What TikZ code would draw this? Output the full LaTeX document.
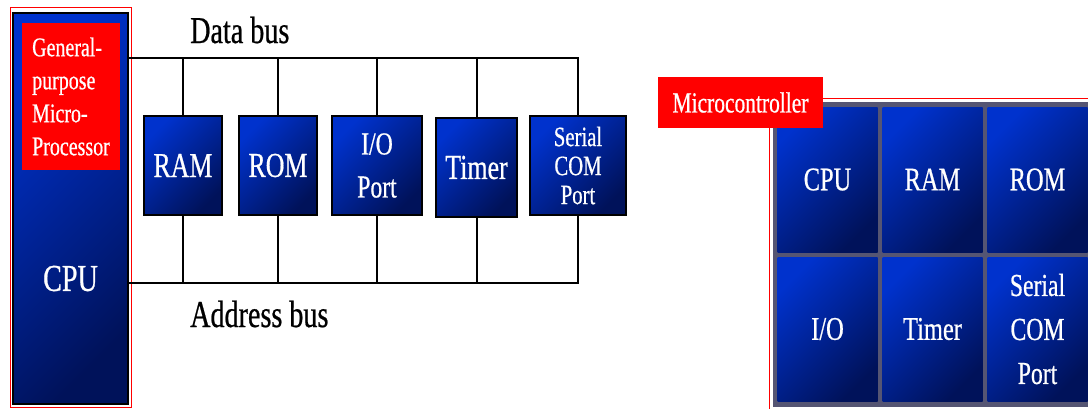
\documentclass[tikz,border=0pt]{standalone}
\usepackage{fontspec}
\setmainfont{Liberation Serif}[FakeStretch=0.74, FakeBold=0.6]
\definecolor{chipHi}{RGB}{0,50,205}
\definecolor{chipLo}{RGB}{0,18,90}
\definecolor{panelgrey}{RGB}{85,85,115}
\definecolor{labelred}{RGB}{255,0,0}
\tikzset{
  chip/.style={draw=black, line width=1.2pt, top color=chipHi, bottom color=chipLo,
    shading angle=45, text=white, inner sep=0pt, align=center},
  cell/.style={chip, draw=none},
  frame/.style={draw=labelred, line width=0.8pt, inner sep=0pt},
  redlabel/.style={fill=labelred, text=white, inner sep=0pt},
  bus/.style={draw=black, line width=2.5pt, line join=miter},
  drop/.style={draw=black, line width=2pt},
  bigtext/.style={font=\fontsize{38}{42}\selectfont},
  boxtext/.style={font=\fontsize{35}{40}\selectfont},
  celltext/.style={font=\fontsize{33}{38}\selectfont},
  smalltext/.style={font=\fontsize{27}{33}\selectfont},
}
\begin{document}
\begin{tikzpicture}[x=1pt,y=-1pt]
\useasboundingbox (0,0) rectangle (1088,408);

% general-purpose microprocessor system
\node[frame, minimum width=121pt, minimum height=400pt] (cpuframe) at (70.5,207.5) {};
\node[chip, minimum width=115pt, minimum height=391pt] (cpu) at (70.5,208.5) {};
\node[redlabel, smalltext, align=left, minimum width=98pt, minimum height=147pt]
  (gpm) at (71,96.5) {General-\\purpose\\Micro-\\Processor};
\node[text=white, bigtext] (cputext) at (70.5,278.5) {CPU};

\node[chip, boxtext, minimum width=78pt, minimum height=99pt] (ram) at (183,165.5) {RAM};
\node[chip, boxtext, minimum width=78pt, minimum height=99pt] (rom) at (278,165.5) {ROM};
\node[chip, font=\fontsize{32}{43}\selectfont, minimum width=90pt, minimum height=99pt]
  (io) at (377,165.5) {I/O\\Port};
\node[chip, boxtext, minimum width=81pt, minimum height=99pt] (timer) at (476.5,167.5) {Timer};
\node[chip, font=\fontsize{28}{29}\selectfont, minimum width=96pt, minimum height=99pt]
  (serial) at (578,165.5) {Serial\\COM\\Port};

% buses
\coordinate (dbend) at (575,58);
\coordinate (abend) at (575,283);
\draw[bus] (cpu.east |- dbend) -- (serial.north |- dbend) -- (serial.north);
\draw[bus] (cpu.east |- abend) -- (serial.south |- abend) -- (serial.south);
\foreach \n in {ram,rom,io,timer}{
  \draw[drop] (\n.north) -- (\n.north |- dbend);
  \draw[drop] (\n.south) -- (\n.south |- abend);
}
\node[bigtext, anchor=base west, inner sep=0pt] (dblabel) at (190,43) {Data bus};
\node[bigtext, anchor=base west, inner sep=0pt] (ablabel) at (190,327) {Address bus};

% microcontroller
\node[frame, anchor=north west, minimum width=340pt, minimum height=330pt] (mcframe) at (769,98) {};
\node[fill=panelgrey, anchor=north west, inner sep=0pt, minimum width=330pt, minimum height=304.5pt]
  (panel) at (773,102) {};
\node[cell, celltext, minimum width=100pt, minimum height=145pt] (mcpu) at (827.5,179.5) {CPU};
\node[cell, celltext, minimum width=100pt, minimum height=145pt] (mram) at (932.5,179.5) {RAM};
\node[cell, celltext, minimum width=100pt, minimum height=145pt] (mrom) at (1037.5,179.5) {ROM};
\node[cell, celltext, minimum width=100pt, minimum height=144pt] (mio) at (827.5,329) {I/O};
\node[cell, celltext, minimum width=100pt, minimum height=144pt] (mtimer) at (932.5,329) {Timer};
\node[cell, font=\fontsize{32}{44}\selectfont, minimum width=100pt, minimum height=144pt]
  (mserial) at (1037.5,329) {Serial\\COM\\Port};
\node[redlabel, font=\fontsize{29}{32}\selectfont, minimum width=165pt, minimum height=51pt]
  (mclabel) at (740.5,102.5) {Microcontroller};
\end{tikzpicture}
\end{document}
